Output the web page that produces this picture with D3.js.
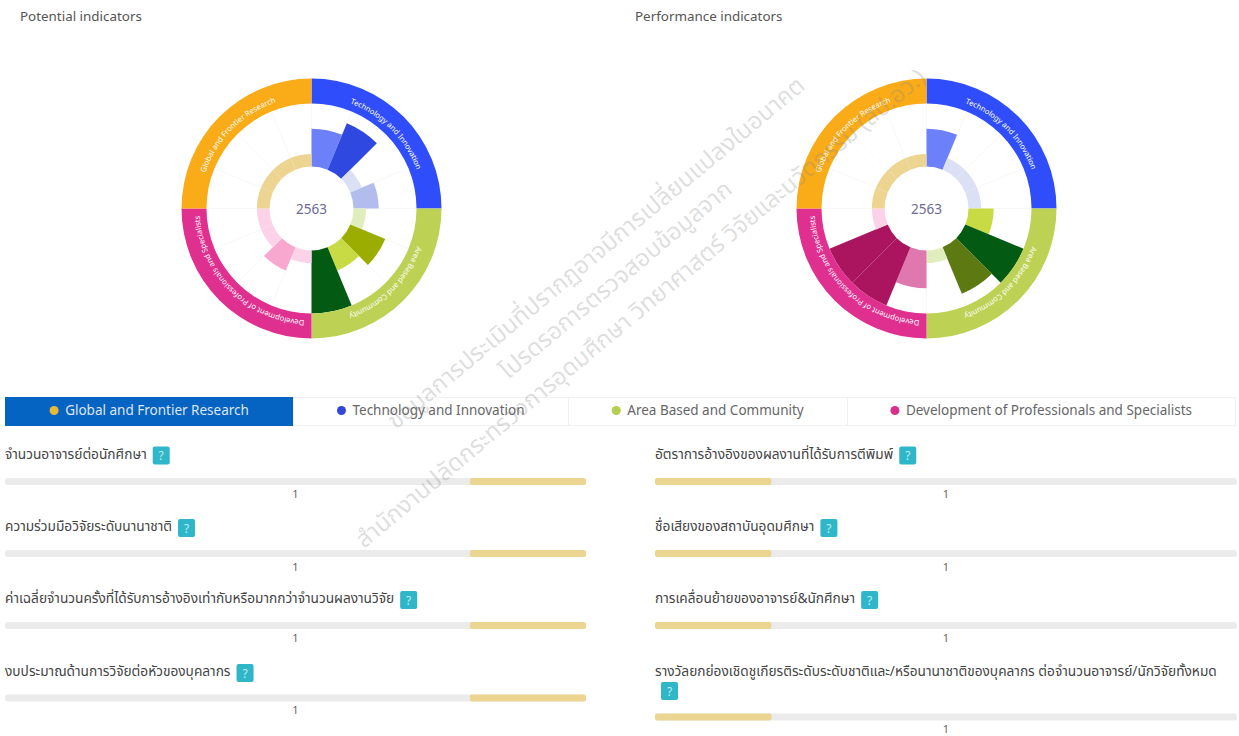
<!DOCTYPE html>
<html>
<head>
<meta charset="utf-8">
<script src="https://cdn.jsdelivr.net/npm/d3@7"></script>
<style>
  html, body { margin: 0; padding: 0; background: #fff; }
  svg { display: block; font-family: "Noto Sans", "Open Sans", sans-serif; }
</style>
</head>
<body>
<svg id="chart" width="1239" height="736"></svg>
<script>
// ระดับของแต่ละกลุ่ม (เรียงตามเข็มนาฬิกาจากด้านบน)
const groups = ['Technology and Innovation', 'Area Based and Community', 'Development of Professionals and Specialists', 'Global and Frontier Research'];
const tabOrder = ['Global and Frontier Research', 'Technology and Innovation', 'Area Based and Community', 'Development of Professionals and Specialists'];
const year = '2563';
const potentialTitle = 'Potential indicators';
const performanceTitle = 'Performance indicators';
const potentialLevels = [3, 4, 1, 2, 1, 3, 2, 5, 1, 2, 1, 1, 1, 1, 1, 1];
const performanceLevels = [3, 1, 1, 1, 2, 5, 4, 1, 3, 5, 5, 1, 1, 1, 1, 1];

const ringColors = ['#2f4dfb', '#bdd155', '#e0308f', '#f9ab18'];
const tabDots = ['#e7b935', '#3346d8', '#b4cf4e', '#d92f8c'];
// สีตามระดับ 1-5
const levelColors = [
    ['#dbe0f5', '#b2bdee', '#6c80fa', '#2f48e0', '#2f48e0'],
    ['#e0eebd', '#c8db45', '#9bad00', '#5d7a12', '#035a12'],
    ['#fbd2e8', '#f8a8cf', '#e078b0', '#c2287f', '#ab1560'],
    ['#edd490', '#edd490', '#edd490', '#edd490', '#edd490']
];

const leftLabels = [
    'จำนวนอาจารย์ต่อนักศึกษา',
    'ความร่วมมือวิจัยระดับนานาชาติ',
    'ค่าเฉลี่ยจำนวนครั้งที่ได้รับการอ้างอิงเท่ากับหรือมากกว่าจำนวนผลงานวิจัย',
    'งบประมาณด้านการวิจัยต่อหัวของบุคลากร'
];
const rightLabels = [
    'อัตราการอ้างอิงของผลงานที่ได้รับการตีพิมพ์',
    'ชื่อเสียงของสถาบันอุดมศึกษา',
    'การเคลื่อนย้ายของอาจารย์&นักศึกษา',
    'รางวัลยกย่องเชิดชูเกียรติระดับระดับชาติและ/หรือนานาชาติของบุคลากร ต่อจำนวนอาจารย์/นักวิจัยทั้งหมด'
];
const leftValues = [1, 1, 1, 1];
const rightValues = [1, 1, 1, 1];

const watermarkLines = [
    'ข้อมูลการประเมินที่ปรากฏอาจมีการเปลี่ยนแปลงในอนาคต',
    'โปรดรอการตรวจสอบข้อมูลจาก',
    'สำนักงานปลัดกระทรวงการอุดมศึกษา วิทยาศาสตร์ วิจัยและนวัตกรรม (สป.อว.)'
];

const svg = d3.select('#chart');
const thaiFont = '"Noto Sans Thai", "Noto Sans", "DejaVu Sans", sans-serif';

const radius = d3.scaleLinear().domain([0, 5]).range([42, 105]);
const angle = d3.scaleLinear().domain([0, 16]).range([0, 2 * Math.PI]);
const arc = d3.arc();

function drawRose(cx, cy, title, titleX, levels, id) {
    svg.append('text').attr('x', titleX).attr('y', 21).attr('font-size', 13.4).attr('fill', '#555').text(title);
    const g = svg.append('g').attr('transform', `translate(${cx},${cy})`);

    // เส้นแบ่งจาง ๆ
    g.selectAll('line.spoke').data(d3.range(16)).enter().append('line')
        .attr('class', 'spoke')
        .attr('x1', d => radius(1) * Math.sin(angle(d)))
        .attr('y1', d => -radius(1) * Math.cos(angle(d)))
        .attr('x2', d => 105 * Math.sin(angle(d)))
        .attr('y2', d => -105 * Math.cos(angle(d)))
        .attr('stroke', '#f8f8f8');

    g.selectAll('path.bar').data(levels).enter().append('path')
        .attr('class', 'bar')
        .attr('fill', (d, i) => levelColors[Math.floor(i / 4)][d - 1])
        .attr('d', (d, i) => arc({ innerRadius: radius(0), outerRadius: radius(d), startAngle: angle(i), endAngle: angle(i + 1) }));

    g.selectAll('path.ring').data(groups).enter().append('path')
        .attr('class', 'ring')
        .attr('fill', (d, i) => ringColors[i])
        .attr('d', (d, i) => arc({ innerRadius: 105, outerRadius: 130, startAngle: angle(i * 4), endAngle: angle(i * 4 + 4) }));

    // ชื่อกลุ่มตามแนวโค้ง
    groups.forEach((name, i) => {
        const a0 = angle(i * 4) - Math.PI / 2, a1 = angle(i * 4 + 4) - Math.PI / 2;
        const r = 112;
        g.append('path').attr('id', `${id}-label-${i}`).attr('fill', 'none')
            .attr('d', `M${r * Math.cos(a0)},${r * Math.sin(a0)}A${r},${r} 0 0 1 ${r * Math.cos(a1)},${r * Math.sin(a1)}`);
        g.append('text').attr('font-size', 7.6).attr('fill', '#fff').attr('text-anchor', 'middle')
            .append('textPath').attr('href', `#${id}-label-${i}`).attr('startOffset', '50%').text(name);
    });

    g.append('text').attr('text-anchor', 'middle').attr('y', 5).attr('font-size', 13.5).attr('fill', '#6d6a96').text(year);
}

drawRose(311.5, 208.5, potentialTitle, 20, potentialLevels, 'potential');
drawRose(926.5, 208.5, performanceTitle, 635, performanceLevels, 'performance');

// แท็บ
const tabEdges = [5, 293, 568, 847, 1235];
const tabs = svg.append('g');
tabOrder.forEach((name, i) => {
    const x0 = tabEdges[i], x1 = tabEdges[i + 1];
    tabs.append('rect').attr('x', x0 + 0.5).attr('y', 397.5).attr('width', x1 - x0).attr('height', 28)
        .attr('fill', i === 0 ? '#0563c1' : '#fff').attr('stroke', i === 0 ? '#0563c1' : '#f0f0f0');
    const t = tabs.append('text').attr('y', 415).attr('font-size', 13.5)
        .attr('fill', i === 0 ? '#dfe6ee' : '#666').text(name);
    const w = t.node().getComputedTextLength();
    const start = (x0 + x1) / 2 - (w + 14) / 2;
    t.attr('x', start + 15);
    tabs.append('circle').attr('cx', start + 4).attr('cy', 410.5).attr('r', 4.5).attr('fill', tabDots[i]);
});

// แถวตัวชี้วัด
function helpIcon(x, y) {
    svg.append('rect').attr('x', x).attr('y', y).attr('width', 17).attr('height', 18).attr('rx', 2).attr('fill', '#2fb6c9');
    svg.append('text').attr('x', x + 8.5).attr('y', y + 13.5).attr('text-anchor', 'middle')
        .attr('font-size', 12).attr('fill', '#bfeef2').text('?');
}

const rowLabelY = [458.5, 531, 603, 676];
const rowBarY = [481.5, 553.5, 625.5, 698];
const rowValueY = [498, 571, 642, 714];

function drawRows(labels, values, x0, x1, reversed, barOffsets) {
    const x = d3.scaleLinear().domain(reversed ? [5, 0] : [0, 5]).range([x0, x1]);
    labels.forEach((label, i) => {
        const wrap = i === 3 && !reversed;
        const t = svg.append('text').attr('x', x0).attr('y', rowLabelY[i]).attr('font-size', 13.7)
            .attr('font-family', thaiFont).attr('fill', '#444').text(label);
        const w = t.node().getComputedTextLength();
        if (wrap) helpIcon(x0 + 6, rowLabelY[i] + 6); else helpIcon(x0 + w + 6, rowLabelY[i] - 12);
        const by = rowBarY[i] + barOffsets[i];
        svg.append('rect').attr('x', x0).attr('y', by - 3.5).attr('width', x1 - x0).attr('height', 7).attr('rx', 3).attr('fill', '#ebebeb');
        svg.append('rect').attr('x', Math.min(x(0), x(values[i]))).attr('y', by - 3.5)
            .attr('width', Math.abs(x(values[i]) - x(0))).attr('height', 7).attr('rx', 2).attr('fill', '#ecd591');
        svg.append('text').attr('x', (x0 + x1) / 2).attr('y', rowValueY[i] + barOffsets[i]).attr('text-anchor', 'middle')
            .attr('font-size', 11).attr('fill', '#666').text(values[i]);
    });
}

drawRows(leftLabels, leftValues, 5, 586, true, [0, 0, 0, 0]);
drawRows(rightLabels, rightValues, 655, 1237, false, [0, 0, 0, 19]);

// ลายน้ำ
const watermark = svg.append('g').attr('fill', '#8a8a8a').attr('fill-opacity', 0.28).attr('font-family', thaiFont).attr('font-size', 23.9);
const wmAnchors = [[396, 430], [508, 380], [364, 549]];
watermarkLines.forEach((line, i) => {
    watermark.append('text').attr('transform', `translate(${wmAnchors[i][0]},${wmAnchors[i][1]}) rotate(-39.8)`).text(line);
});
</script>
</body>
</html>
